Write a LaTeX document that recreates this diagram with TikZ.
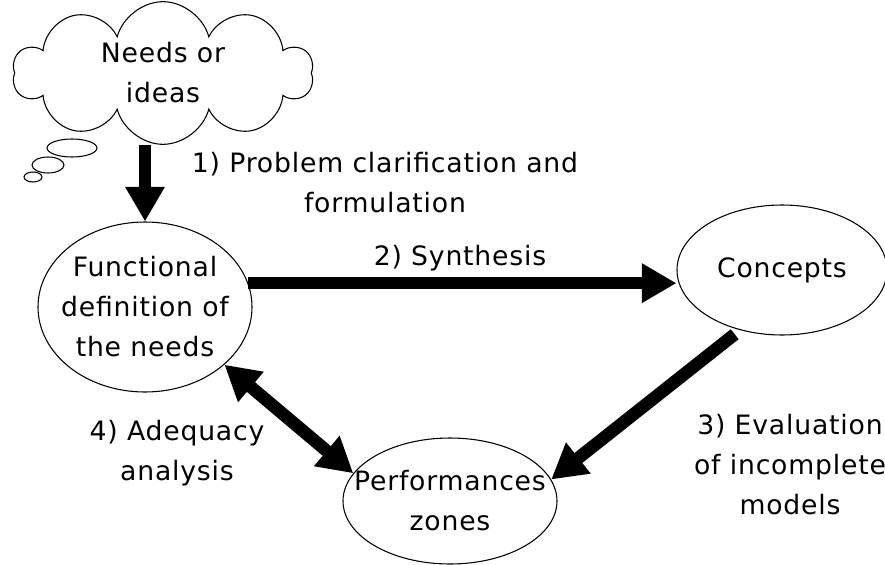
\documentclass[tikz,border=0pt]{standalone}
\usepackage{fontspec}
\setmainfont{DejaVu Sans}[LetterSpace=3]
\usetikzlibrary{shapes.geometric,shapes.symbols,arrows.meta}

\tikzset{
  bubble/.style={draw, ellipse, line width=0.8pt, inner sep=-20pt, align=center},
  fatarrow/.style={line width=9.5pt, -{Triangle[length=26pt,width=28pt]}},
  fatboth/.style={line width=9.5pt, {Triangle[length=26pt,width=28pt]}-{Triangle[length=26pt,width=28pt]}},
  steptext/.style={inner sep=0pt, align=center}
}

\begin{document}
\begin{tikzpicture}[x=0.75pt,y=0.75pt,yscale=-1,xscale=1,font=\fontsize{20}{30}\selectfont]
\useasboundingbox (0,0) rectangle (885,564);

%Shape: Ellipse (thought bubbles)
\draw [line width=0.8pt] (72,148) ellipse [x radius=25, y radius=9];
\draw [line width=0.8pt] (48,165) ellipse [x radius=16, y radius=8];
\draw [line width=0.8pt] (33,177) ellipse [x radius=9, y radius=5];
%Shape: Cloud
\node [draw, cloud, cloud puffs=10, cloud ignores aspect, fill=white, line width=0.8pt,
  minimum width=225pt, minimum height=107pt, align=center] (needs) at (163,73) {Needs or\\ideas};

%Shape: Ellipse
\node [bubble, minimum width=160.5pt, minimum height=127.5pt] (fundef) at (145,307) {Functional\\definition of\\the needs};
%Shape: Ellipse
\node [bubble, minimum width=157.5pt, minimum height=97.5pt] (concepts) at (782,270) {Concepts};
%Shape: Ellipse
\node [bubble, minimum width=160.5pt, minimum height=94.5pt] (perf) at (450,501) {Performances\\zones};

%Arrows
\draw [fatarrow] (fundef.north |- needs.south) -- (fundef.north);
\draw [fatarrow] (fundef.13) -- (fundef.13 -| concepts.west);
\draw [fatarrow, shorten <=5pt] (concepts.-125) -- (perf.12);
\draw [fatboth] (fundef.-36) -- (perf.164);

% Text Node
\node [steptext] (clarif) at (385,183) {1) Problem clarification and\\formulation};
% Text Node
\node [steptext] (synth) at (460,258) {2) Synthesis};
% Text Node
\node [steptext] (evalu) at (790,465) {3) Evaluation\\of incomplete\\models};
% Text Node
\node [steptext] (adeq) at (177,453) {4) Adequacy\\analysis};

\end{tikzpicture}
\end{document}
